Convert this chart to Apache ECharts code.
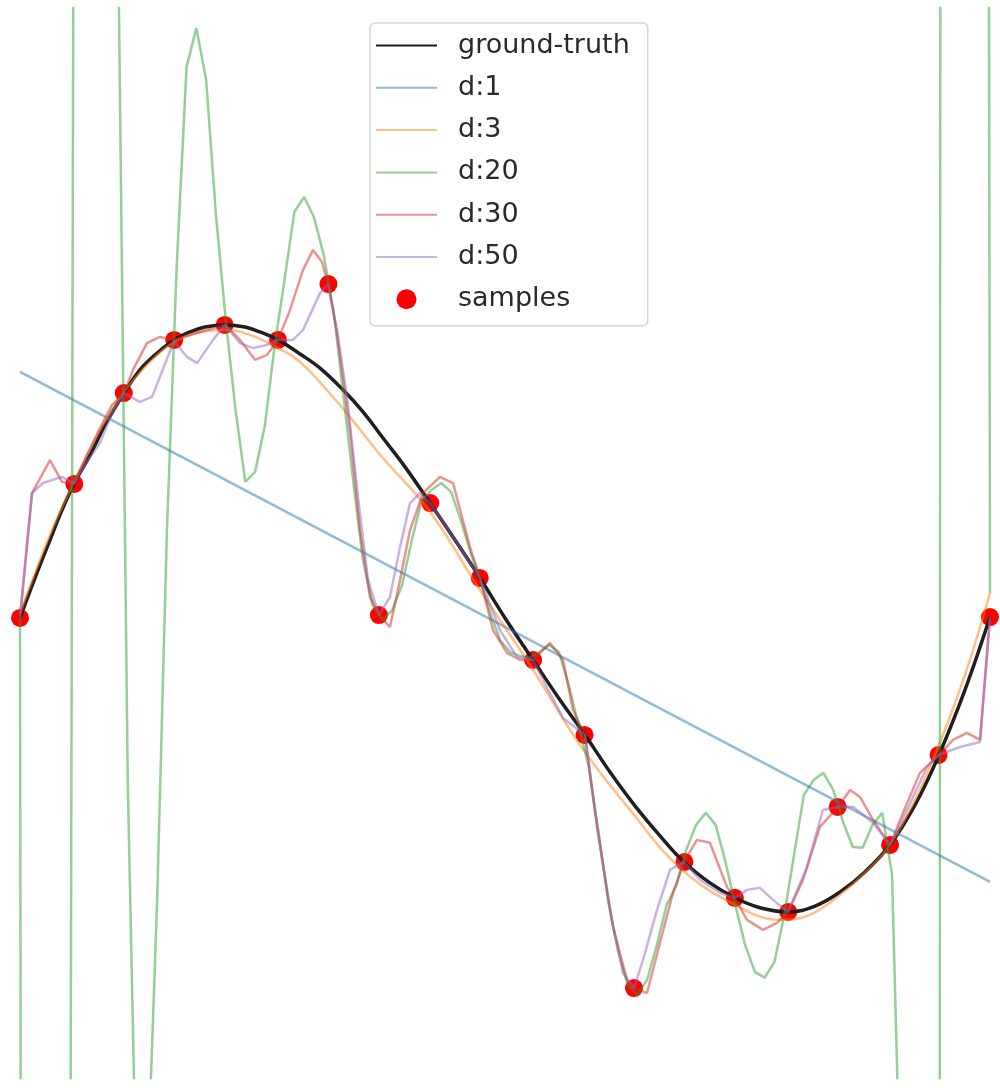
<!DOCTYPE html>
<html>
<head>
<meta charset="utf-8">
<script src="https://cdn.jsdelivr.net/npm/echarts@6/dist/echarts.min.js"></script>
<style>
  html, body { margin: 0; padding: 0; background: #ffffff; }
  #chart { width: 1000px; height: 1088px; }
</style>
</head>
<body>
<div id="chart"></div>
<script>
// ---- data (x in [0,1], y in function units) ----
const sampleX = [0, 0.056, 0.107, 0.159, 0.211, 0.266, 0.318, 0.370, 0.423, 0.474, 0.529, 0.582, 0.633, 0.685, 0.737, 0.792, 0.843, 0.897, 0.947, 1.0];
const sampleY = [0, 0.456, 0.765, 0.946, 0.997, 0.946, 1.136, 0.010, 0.391, 0.136, -0.143, -0.398, -1.259, -0.830, -0.952, -1.000, -0.643, -0.772, -0.466, 0.003];

const gtX = [0, 0.0155, 0.0309, 0.0433, 0.0557, 0.0722, 0.0876, 0.1072, 0.1237, 0.1392, 0.1588, 0.1753, 0.1907, 0.2113, 0.2320, 0.2474, 0.2660, 0.2887, 0.3093, 0.3330, 0.3536, 0.3742, 0.3969, 0.4227, 0.4485, 0.4742, 0.5000, 0.5289, 0.5567, 0.5825, 0.6082, 0.6340, 0.6598, 0.6845, 0.7113, 0.7371, 0.7629, 0.7918, 0.8196, 0.8454, 0.8711, 0.8969, 0.9227, 0.9474, 0.9742, 1.0];
const gtY = [0, 0.136, 0.265, 0.367, 0.456, 0.554, 0.656, 0.765, 0.844, 0.895, 0.946, 0.973, 0.990, 0.997, 0.990, 0.973, 0.946, 0.898, 0.850, 0.776, 0.701, 0.612, 0.514, 0.391, 0.265, 0.136, 0.000, -0.143, -0.279, -0.398, -0.524, -0.639, -0.741, -0.830, -0.901, -0.952, -0.986, -1.000, -0.980, -0.932, -0.864, -0.772, -0.636, -0.466, -0.245, 0.003];

const d1X = [0, 1.0];
const d1Y = [0.837, -0.898];

const d3X = [0, 0.0309, 0.0557, 0.0825, 0.1072, 0.1340, 0.1588, 0.1856, 0.2113, 0.2371, 0.2660, 0.2887, 0.3299, 0.3742, 0.4227, 0.4742, 0.5258, 0.5773, 0.6289, 0.6804, 0.7371, 0.7835, 0.8144, 0.8454, 0.8763, 0.8969, 0.9227, 0.9474, 0.9742, 1.0];
const d3Y = [0.014, 0.282, 0.463, 0.639, 0.769, 0.871, 0.939, 0.973, 0.980, 0.963, 0.918, 0.871, 0.724, 0.544, 0.361, 0.095, -0.160, -0.432, -0.653, -0.850, -0.976, -1.027, -1.010, -0.942, -0.850, -0.772, -0.619, -0.432, -0.194, 0.085];

const d20X = [0, 0.0101, 0.0505, 0.0606, 0.0808, 0.1010, 0.1111, 0.1212, 0.1313, 0.1414, 0.1515, 0.1616, 0.1717, 0.1818, 0.1919, 0.2020, 0.2121, 0.2222, 0.2323, 0.2424, 0.2525, 0.2626, 0.2727, 0.2828, 0.2929, 0.3030, 0.3131, 0.3232, 0.3333, 0.3434, 0.3535, 0.3636, 0.3737, 0.3838, 0.3939, 0.4040, 0.4141, 0.4242, 0.4343, 0.4444, 0.4545, 0.4646, 0.4747, 0.4848, 0.4949, 0.5051, 0.5152, 0.5253, 0.5354, 0.5455, 0.5556, 0.5657, 0.5758, 0.5859, 0.5960, 0.6061, 0.6162, 0.6263, 0.6364, 0.6465, 0.6566, 0.6667, 0.6768, 0.6869, 0.6970, 0.7071, 0.7172, 0.7273, 0.7374, 0.7475, 0.7576, 0.7677, 0.7778, 0.7879, 0.7980, 0.8081, 0.8182, 0.8283, 0.8384, 0.8485, 0.8586, 0.8687, 0.8788, 0.8889, 0.8990, 0.9091, 0.9192, 0.9394, 0.9495, 0.9899, 1.0];
const d20Y = [0.000, -22, -4, 10, 25, 2.374, -0.558, -2.146, -1.915, -0.959, 0.299, 1.201, 1.874, 2.007, 1.830, 1.371, 1.014, 0.707, 0.463, 0.497, 0.656, 0.929, 1.150, 1.381, 1.432, 1.364, 1.235, 1.048, 0.759, 0.469, 0.197, 0.044, -0.007, 0.027, 0.112, 0.265, 0.401, 0.435, 0.459, 0.429, 0.333, 0.221, 0.129, 0.017, -0.075, -0.116, -0.129, -0.136, -0.116, -0.092, -0.116, -0.228, -0.364, -0.500, -0.721, -0.959, -1.129, -1.248, -1.282, -1.231, -1.112, -0.976, -0.908, -0.789, -0.704, -0.663, -0.704, -0.830, -0.976, -1.112, -1.204, -1.224, -1.170, -1.010, -0.806, -0.602, -0.551, -0.527, -0.585, -0.694, -0.779, -0.782, -0.704, -0.663, -0.874, -2.150, -20, -60, 7, 20, 0.085];

const d30X = [0, 0.0124, 0.0309, 0.0433, 0.0557, 0.0691, 0.0825, 0.0948, 0.1072, 0.1165, 0.1309, 0.1443, 0.1588, 0.1856, 0.2113, 0.2268, 0.2423, 0.2546, 0.2660, 0.2784, 0.2918, 0.3021, 0.3113, 0.3175, 0.3268, 0.3402, 0.3505, 0.3608, 0.3701, 0.3814, 0.3918, 0.4021, 0.4155, 0.4330, 0.4464, 0.4639, 0.4742, 0.4876, 0.5021, 0.5155, 0.5289, 0.5464, 0.5598, 0.5701, 0.5825, 0.5948, 0.6113, 0.6258, 0.6330, 0.6464, 0.6598, 0.6732, 0.6845, 0.6979, 0.7113, 0.7289, 0.7371, 0.7495, 0.7660, 0.7804, 0.7918, 0.8072, 0.8247, 0.8433, 0.8557, 0.8660, 0.8794, 0.8969, 0.9103, 0.9278, 0.9474, 0.9619, 0.9763, 0.9897, 1.0];
const d30Y = [0, 0.425, 0.537, 0.463, 0.456, 0.554, 0.646, 0.724, 0.765, 0.844, 0.935, 0.956, 0.946, 0.973, 0.997, 0.946, 0.878, 0.895, 0.946, 1.048, 1.184, 1.252, 1.211, 1.139, 0.969, 0.639, 0.299, 0.071, 0.010, -0.031, 0.129, 0.299, 0.425, 0.480, 0.459, 0.241, 0.136, -0.041, -0.119, -0.143, -0.143, -0.085, -0.143, -0.313, -0.398, -0.711, -1.051, -1.231, -1.259, -1.276, -1.105, -0.935, -0.830, -0.755, -0.765, -0.915, -0.952, -1.027, -1.061, -1.037, -1.000, -0.891, -0.711, -0.643, -0.585, -0.609, -0.687, -0.772, -0.663, -0.527, -0.466, -0.415, -0.391, -0.415, 0.003];

const d50X = [0, 0.0124, 0.0237, 0.0433, 0.0557, 0.0691, 0.0825, 0.0928, 0.1072, 0.1237, 0.1361, 0.1588, 0.1722, 0.1825, 0.1990, 0.2113, 0.2268, 0.2402, 0.2546, 0.2660, 0.2814, 0.2918, 0.3093, 0.3175, 0.3268, 0.3371, 0.3485, 0.3588, 0.3701, 0.3814, 0.3918, 0.4021, 0.4124, 0.4227, 0.4464, 0.4742, 0.4948, 0.5124, 0.5289, 0.5433, 0.5598, 0.5825, 0.5928, 0.6082, 0.6216, 0.6330, 0.6423, 0.6567, 0.6701, 0.6845, 0.7010, 0.7216, 0.7371, 0.7495, 0.7629, 0.7763, 0.7918, 0.8113, 0.8278, 0.8433, 0.8588, 0.8794, 0.8969, 0.9144, 0.9351, 0.9474, 0.9691, 0.9897, 1.0];
const d50Y = [0, 0.425, 0.459, 0.480, 0.456, 0.531, 0.595, 0.680, 0.765, 0.735, 0.752, 0.942, 0.888, 0.867, 0.946, 0.997, 0.935, 0.918, 0.929, 0.946, 0.946, 0.980, 1.105, 1.136, 0.980, 0.752, 0.412, 0.129, 0.010, 0.071, 0.241, 0.391, 0.425, 0.391, 0.276, 0.136, -0.041, -0.133, -0.143, -0.238, -0.340, -0.398, -0.653, -0.993, -1.207, -1.259, -1.163, -0.993, -0.857, -0.830, -0.891, -0.935, -0.952, -0.925, -0.918, -0.959, -1.000, -0.847, -0.653, -0.643, -0.643, -0.697, -0.772, -0.653, -0.507, -0.466, -0.439, -0.422, 0.003];

const lineNames = ['ground-truth', 'd:1', 'd:3', 'd:20', 'd:30', 'd:50'];
const scatterName = 'samples';

function zip(xs, ys) { return xs.map((x, i) => [x, ys[i]]); }

const chart = echarts.init(document.getElementById('chart'), null, { renderer: 'canvas' });

function lineSeries(name, xs, ys, color, width, smooth) {
  return {
    name: name,
    type: 'line',
    data: zip(xs, ys),
    symbol: 'none',
    showSymbol: false,
    smooth: smooth,
    clip: true,
    z: 2,
    lineStyle: { color: color, width: width },
    itemStyle: { color: color }
  };
}

const legendData = lineNames.map(n => ({ name: n, itemStyle: { opacity: 0 } }))
  .concat([{ name: scatterName }]);

const option = {
  animation: false,
  backgroundColor: '#ffffff',
  grid: { left: 0, right: 0, top: 8, bottom: 10 },
  xAxis: { type: 'value', min: -0.020619, max: 1.010309, show: false },
  yAxis: { type: 'value', min: -1.565, max: 2.075, show: false },
  legend: {
    data: legendData,
    orient: 'vertical',
    left: 370,
    top: 23,
    itemWidth: 61,
    itemHeight: 20,
    itemGap: 15.3,
    padding: [9, 18, 13, 5],
    backgroundColor: 'rgba(255,255,255,0.8)',
    borderColor: '#d6d6d6',
    borderWidth: 1.5,
    borderRadius: 5,
    textStyle: {
      fontFamily: 'DejaVu Sans',
      fontSize: 27,
      color: '#2a2a2a',
      padding: [0, 0, 0, 16]
    }
  },
  series: [
    {
      name: scatterName,
      type: 'scatter',
      data: zip(sampleX, sampleY),
      symbol: 'circle',
      symbolSize: 18,
      z: 1,
      itemStyle: { color: '#ff0000', opacity: 1 }
    },
    lineSeries('ground-truth', gtX, gtY, '#1f1f1f', 3.5, 0.4),
    lineSeries('d:1', d1X, d1Y, 'rgba(31,119,180,0.5)', 2.5, false),
    lineSeries('d:3', d3X, d3Y, 'rgba(255,127,14,0.5)', 2.5, 0.4),
    lineSeries('d:20', d20X, d20Y, 'rgba(44,160,44,0.5)', 2.5, false),
    lineSeries('d:30', d30X, d30Y, 'rgba(214,39,40,0.5)', 2.5, false),
    lineSeries('d:50', d50X, d50Y, 'rgba(148,103,189,0.5)', 2.5, false)
  ]
};
chart.setOption(option);
</script>
</body>
</html>
